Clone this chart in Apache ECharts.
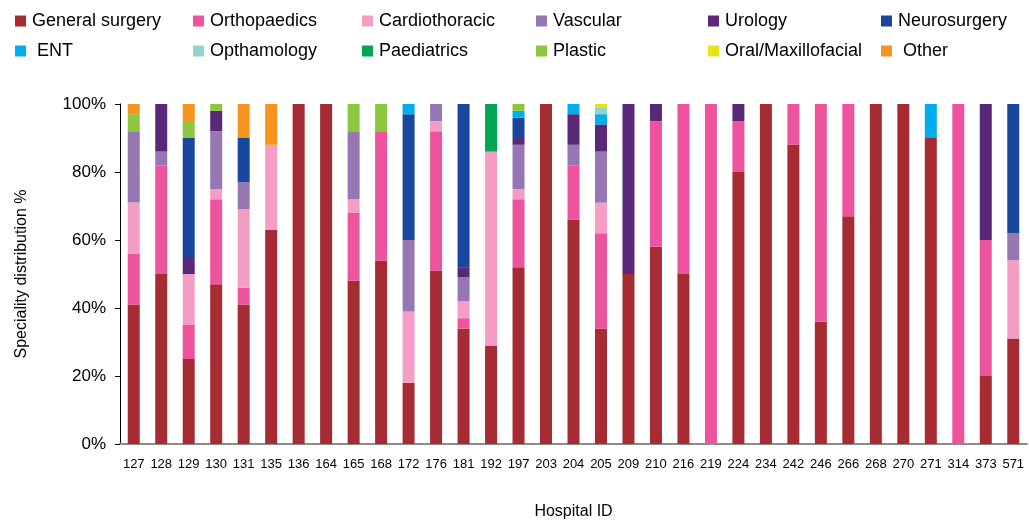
<!DOCTYPE html>
<html>
<head>
<meta charset="utf-8">
<script src="https://cdn.jsdelivr.net/npm/echarts@6/dist/echarts.min.js"></script>
<style>
  html, body { margin: 0; padding: 0; background: #fff; }
  #chart { width: 1029px; height: 525px; }
</style>
</head>
<body>
<div id="chart"></div>
<script>
// hospital ids along the x axis
var hospitals = ['127','128','129','130','131','135','136','164','165','168','172','176','181','192','197','203',
                 '204','205','209','210','216','219','224','234','242','246','266','268','270','271','314','373','571'];

// speciality share (%) per hospital
var generalSurgery = [41,50,25,47,41,63,100,100,48,54,18,51,34,29,52,100,66,34,50,58,50,0,80,100,88,36,67,100,100,90,0,20,31];
var orthopaedics   = [15,32,10,25,5,0,0,0,20,38,0,41,3,0,20,0,16,28,0,37,50,100,15,0,12,64,33,0,0,0,100,40,0];
var cardiothoracic = [15,0,15,3,23,25,0,0,4,0,21,3,5,57,3,0,0,9,0,0,0,0,0,0,0,0,0,0,0,0,0,0,23];
var vascular       = [21,4,0,17,8,0,0,0,20,0,21,5,7,0,13,0,6,15,0,0,0,0,0,0,0,0,0,0,0,0,0,0,8];
var urology        = [0,14,5,6,0,0,0,0,0,0,0,0,3,0,2,0,9,8,50,5,0,0,5,0,0,0,0,0,0,0,0,40,0];
var neurosurgery   = [0,0,35,0,13,0,0,0,0,0,37,0,48,0,6,0,0,0,0,0,0,0,0,0,0,0,0,0,0,0,0,0,38];
var ent            = [0,0,0,0,0,0,0,0,0,0,3,0,0,0,2,0,3,3,0,0,0,0,0,0,0,0,0,0,0,10,0,0,0];
var opthamology    = [0,0,0,0,0,0,0,0,0,0,0,0,0,0,0,0,0,2,0,0,0,0,0,0,0,0,0,0,0,0,0,0,0];
var paediatrics    = [0,0,0,0,0,0,0,0,0,0,0,0,0,14,0,0,0,0,0,0,0,0,0,0,0,0,0,0,0,0,0,0,0];
var plastic        = [5,0,5,2,0,0,0,0,8,8,0,0,0,0,2,0,0,0,0,0,0,0,0,0,0,0,0,0,0,0,0,0,0];
var oralMaxillo    = [0,0,0,0,0,0,0,0,0,0,0,0,0,0,0,0,0,1,0,0,0,0,0,0,0,0,0,0,0,0,0,0,0];
var other          = [3,0,5,0,10,12,0,0,0,0,0,0,0,0,0,0,0,0,0,0,0,0,0,0,0,0,0,0,0,0,0,0,0];

var yTicks = [0, 20, 40, 60, 80, 100];

var specialities = [
  { name: 'General surgery',    data: generalSurgery, color: '#A62B32' },
  { name: 'Orthopaedics',       data: orthopaedics,   color: '#EE549D' },
  { name: 'Cardiothoracic',     data: cardiothoracic, color: '#F49EC5' },
  { name: 'Vascular',           data: vascular,       color: '#9677B3' },
  { name: 'Urology',            data: urology,        color: '#5A2878' },
  { name: 'Neurosurgery',       data: neurosurgery,   color: '#19479E' },
  { name: 'ENT',                data: ent,            color: '#00AEEF' },
  { name: 'Opthamology',        data: opthamology,    color: '#93D3CF' },
  { name: 'Paediatrics',        data: paediatrics,    color: '#00A651' },
  { name: 'Plastic',            data: plastic,        color: '#8DC63F' },
  { name: 'Oral/Maxillofacial', data: oralMaxillo,    color: '#E5E31A' },
  { name: 'Other',              data: other,          color: '#F7941D' }
];

// legend is two rows of six, laid out on fixed columns
var legendCols = [15, 193, 362, 536, 708, 881];
var legendRows = [12, 42];

var font = "'Liberation Sans', Arial, sans-serif";

var legends = specialities.map(function (s, i) {
  return {
    data: [s.name],
    left: legendCols[i % 6],
    top: legendRows[Math.floor(i / 6)],
    icon: 'rect',
    itemWidth: 11,
    itemHeight: 11,
    itemGap: 0,
    padding: 0,
    selectedMode: false,
    formatter: function (n) { return (n === 'ENT' || n === 'Other') ? ' ' + n : n; },
    textStyle: { fontFamily: font, fontSize: 18, lineHeight: 18, color: '#000', padding: [0, 0, 0, 1] }
  };
});

var myChart = echarts.init(document.getElementById('chart'));
myChart.setOption({
  animation: false,
  textStyle: { fontFamily: font },
  legend: legends,
  grid: { left: 120, right: 2, top: 104, bottom: 81 },
  xAxis: {
    type: 'category',
    data: hospitals,
    name: 'Hospital ID',
    nameLocation: 'middle',
    nameGap: 60,
    nameTextStyle: { fontFamily: font, fontSize: 16, color: '#000' },
    axisLine: { lineStyle: { color: '#8c8c8c', width: 2 } },
    axisTick: { length: 5, lineStyle: { color: '#333' } },
    axisLabel: { fontFamily: font, fontSize: 13, color: '#000', margin: 14, interval: 0 }
  },
  yAxis: {
    type: 'value',
    min: yTicks[0],
    max: yTicks[yTicks.length - 1],
    interval: 20,
    name: 'Speciality distribution %',
    nameLocation: 'middle',
    nameGap: 90,
    nameRotate: 90,
    nameTextStyle: { fontFamily: font, fontSize: 16, color: '#000' },
    axisLine: { show: true, lineStyle: { color: '#000' } },
    axisTick: { show: true, length: 5, lineStyle: { color: '#000' } },
    axisLabel: { fontFamily: font, fontSize: 17, color: '#000', margin: 14, formatter: '{value}%' },
    splitLine: { show: false }
  },
  series: specialities.map(function (s) {
    return {
      name: s.name,
      type: 'bar',
      stack: 'total',
      barWidth: 12,
      data: s.data,
      itemStyle: { color: s.color }
    };
  })
});
</script>
</body>
</html>
